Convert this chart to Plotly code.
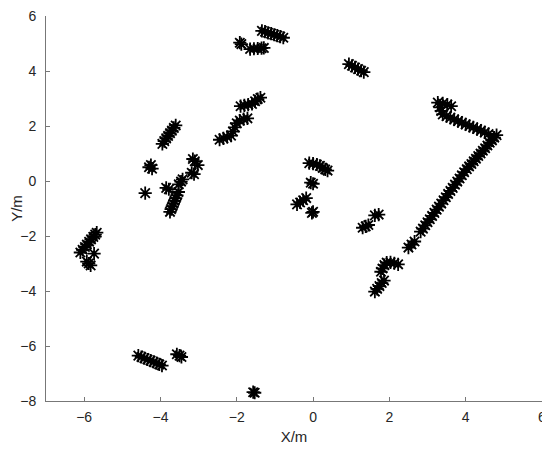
import plotly.graph_objects as go

# scan points, grouped by region (metres)
left_x = [-6.10, -6.04, -5.98, -5.93, -5.87, -5.82, -5.76, -5.71, -5.67,
          -5.74, -5.93, -5.88, -5.83,
          -4.58, -4.50, -4.42, -4.34, -4.26, -4.18, -4.10, -4.03, -3.96,
          -3.57, -3.50, -3.45,
          -1.57, -1.53]
left_y = [-2.60, -2.50, -2.40, -2.31, -2.21, -2.12, -2.03, -1.95, -1.88,
          -2.64, -2.93, -3.00, -3.07,
          -6.35, -6.40, -6.44, -6.49, -6.53, -6.58, -6.62, -6.67, -6.71,
          -6.30, -6.35, -6.40,
          -7.68, -7.70]

mid_x = [-3.95, -3.90, -3.85, -3.80, -3.75, -3.70, -3.65, -3.60,
         -4.30, -4.25, -4.22,
         -4.40,
         -3.85, -3.78,
         -3.75, -3.72, -3.69, -3.66, -3.63, -3.60, -3.57, -3.53,
         -3.52, -3.46, -3.42,
         -3.15, -3.10, -3.02, -3.18, -3.12]
mid_y = [1.35, 1.45, 1.55, 1.64, 1.74, 1.83, 1.93, 2.02,
         0.50, 0.58, 0.45,
         -0.44,
         -0.25, -0.30,
         -1.12, -1.02, -0.92, -0.82, -0.72, -0.62, -0.52, -0.40,
         -0.12, -0.02, 0.06,
         0.80, 0.72, 0.58, 0.30, 0.25]

upper_x = [-2.45, -2.35, -2.25, -2.15, -2.10, -2.05, -2.00, -1.92, -1.82, -1.72,
           -1.90, -1.80, -1.70, -1.60, -1.52, -1.45, -1.38,
           -1.92, -1.88,
           -1.65, -1.55, -1.45, -1.35, -1.29,
           -1.34, -1.26, -1.18, -1.10, -1.02, -0.94, -0.86, -0.78,
           0.94, 1.02, 1.10, 1.18, 1.26, 1.33]
upper_y = [1.50, 1.55, 1.60, 1.65, 1.80, 1.95, 2.10, 2.20, 2.25, 2.28,
           2.72, 2.75, 2.78, 2.80, 2.90, 2.98, 3.03,
           5.03, 4.98,
           4.80, 4.81, 4.82, 4.83, 4.84,
           5.46, 5.43, 5.39, 5.36, 5.32, 5.29, 5.25, 5.21,
           4.25, 4.19, 4.13, 4.07, 4.01, 3.96]

center_x = [-0.10, 0.00, 0.10, 0.18, 0.25, 0.32, 0.38,
            -0.06, 0.00,
            -0.42, -0.34, -0.26, -0.18,
            -0.03, 0.00,
            1.30, 1.38, 1.45, 1.62, 1.72,
            2.50, 2.58, 2.66,
            1.78, 1.82, 1.87, 1.93, 2.03, 2.13, 2.23,
            1.62, 1.68, 1.74, 1.80, 1.86]
center_y = [0.65, 0.63, 0.60, 0.55, 0.48, 0.42, 0.38,
            -0.06, -0.10,
            -0.85, -0.78, -0.70, -0.62,
            -1.16, -1.12,
            -1.70, -1.65, -1.60, -1.25, -1.22,
            -2.42, -2.31, -2.20,
            -3.30, -3.18, -3.06, -2.97, -2.96, -2.99, -3.03,
            -4.02, -3.92, -3.82, -3.71, -3.62]

wall_x = [2.82, 2.88, 2.94, 3.00, 3.06, 3.12, 3.18, 3.24, 3.30, 3.36,
          3.42, 3.48, 3.54, 3.60, 3.66, 3.72, 3.78, 3.84, 3.90, 3.96,
          4.03, 4.09, 4.15, 4.21, 4.27, 4.33, 4.39, 4.45, 4.51, 4.57,
          4.63, 4.69, 4.75, 4.81,
          3.40, 3.50, 3.60, 3.70, 3.80, 3.90, 4.00, 4.10, 4.20, 4.30,
          4.40, 4.50, 4.60,
          3.36, 3.33, 3.27, 3.40, 3.52, 3.62]
wall_y = [-1.84, -1.73, -1.61, -1.50, -1.39, -1.27, -1.16, -1.04, -0.93, -0.82,
          -0.70, -0.59, -0.47, -0.36, -0.25, -0.13, -0.02, 0.09, 0.21, 0.32,
          0.43, 0.53, 0.62, 0.72, 0.81, 0.91, 1.00, 1.10, 1.19, 1.29,
          1.39, 1.48, 1.58, 1.67,
          2.42, 2.36, 2.30, 2.24, 2.18, 2.12, 2.06, 2.00, 1.95, 1.89,
          1.83, 1.77, 1.71,
          2.55, 2.68, 2.85, 2.82, 2.78, 2.72]

xs = left_x + mid_x + upper_x + center_x + wall_x
ys = left_y + mid_y + upper_y + center_y + wall_y

fig = go.Figure()
fig.add_trace(go.Scatter(
    x=xs, y=ys, mode='markers', cliponaxis=False,
    marker=dict(symbol='asterisk-open', size=11, color='black',
                line=dict(color='black', width=1.8)),
    showlegend=False))

txt = '#262626'
fam = 'Liberation Sans, Arial, sans-serif'
# page body adds an 8px margin, so the figure is 8px smaller than the window
fig.update_layout(
    template='none',
    width=542, height=442,
    margin=dict(l=38, r=8, t=8, b=49),
    plot_bgcolor='white', paper_bgcolor='white',
    font=dict(family=fam, size=14, color=txt),
    xaxis=dict(range=[-7, 6.001], tickvals=[-6, -4, -2, 0, 2, 4, 6],
               automargin=False, ticklabeloverflow='allow',
               showgrid=False, zeroline=False, showline=True,
               linecolor='#777', linewidth=1, ticks='inside', ticklen=4,
               tickcolor='#777', ticklabelstandoff=3,
               tickfont=dict(family=fam, size=14, color=txt),
               title=dict(text='X/m', font=dict(family=fam, size=15, color=txt), standoff=7)),
    yaxis=dict(range=[-8, 6.001], tickvals=[-8, -6, -4, -2, 0, 2, 4, 6],
               automargin=False, ticklabeloverflow='allow',
               showgrid=False, zeroline=False, showline=True,
               linecolor='#777', linewidth=1, ticks='inside', ticklen=4,
               tickcolor='#777', ticklabelstandoff=6,
               tickfont=dict(family=fam, size=14, color=txt),
               title=dict(text='Y/m', font=dict(family=fam, size=15, color=txt), standoff=0)),
)

fig.write_html("out.html")
